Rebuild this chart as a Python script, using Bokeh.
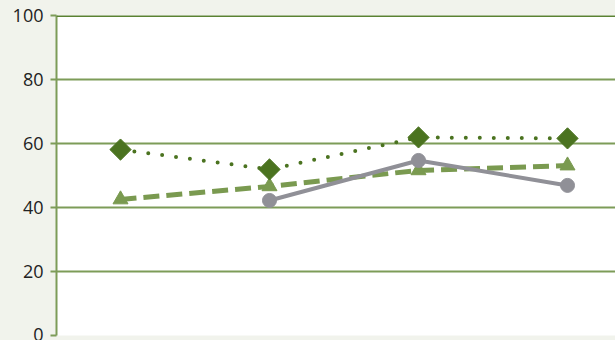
import math
from bokeh.plotting import figure
from bokeh.models import Range1d, Span, FixedTicker
from bokeh.embed import file_html
from bokeh.resources import INLINE

# data
x_pos = [1, 2, 3, 4]
series_diamond = [58.1, 51.9, 61.9, 61.6]
series_triangle = [42.5, 46.6, 51.6, 53.1]
x_circle = [2, 3, 4]
series_circle = [42.2, 54.7, 46.9]
y_ticks = [0, 20, 40, 60, 80, 100]

BG = "#f1f3ec"
GRID = "#7d9c58"
DARK = "#4b7320"
LIGHT = "#7a9a50"
GRAY = "#909097"

W, H = 615, 340
p = figure(width=W, height=H, output_backend="svg", toolbar_location=None,
           x_range=Range1d(1 - 64 / 149, 1 + (559 - 64) / 149), y_range=Range1d(0, 100),
           min_border_left=56, min_border_right=0, min_border_top=15, min_border_bottom=5,
           background_fill_color="white", border_fill_color=BG)
p.outline_line_color = None
p.xaxis.visible = False
p.xgrid.visible = False
p.ygrid.grid_line_color = GRID
p.ygrid.grid_line_width = 2
p.yaxis.ticker = FixedTicker(ticks=y_ticks)
p.yaxis.axis_line_color = GRID
p.yaxis.axis_line_width = 2
p.yaxis.major_tick_line_color = GRID
p.yaxis.major_tick_line_width = 2
p.yaxis.major_tick_out = 6
p.yaxis.major_tick_in = 0
p.yaxis.minor_tick_line_color = None
p.yaxis.major_label_standoff = 7
p.yaxis.major_label_text_font = "Open Sans"
p.yaxis.major_label_text_font_size = "18px"
p.yaxis.major_label_text_color = "#222222"

p.add_layout(Span(location=100, dimension="width", line_color="#5a8232", line_width=3))

# triangles, dashed
p.line(x_pos, series_triangle, line_color=LIGHT, line_width=5, line_dash="16 7")
p.scatter(x_pos, series_triangle, marker="triangle", size=15, fill_color=LIGHT, line_color=LIGHT)

# circles, solid gray
p.line(x_circle, series_circle, line_color=GRAY, line_width=4)
p.scatter(x_circle, series_circle, marker="circle", size=14, fill_color=GRAY, line_color=GRAY)

# diamonds, dotted
p.line(x_pos, series_diamond, line_color=DARK, line_width=4, line_dash="0 14", line_cap="round")
p.scatter(x_pos, series_diamond, marker="square", angle=math.pi / 4, size=15,
          fill_color=DARK, line_color=DARK)

html = file_html(p, INLINE)
css = "<style>html,body{margin:0;padding:0;overflow:hidden;background:%s;}</style>" % BG
html = html.replace("<head>", "<head>" + css, 1)
open("out.html", "w").write(html)
